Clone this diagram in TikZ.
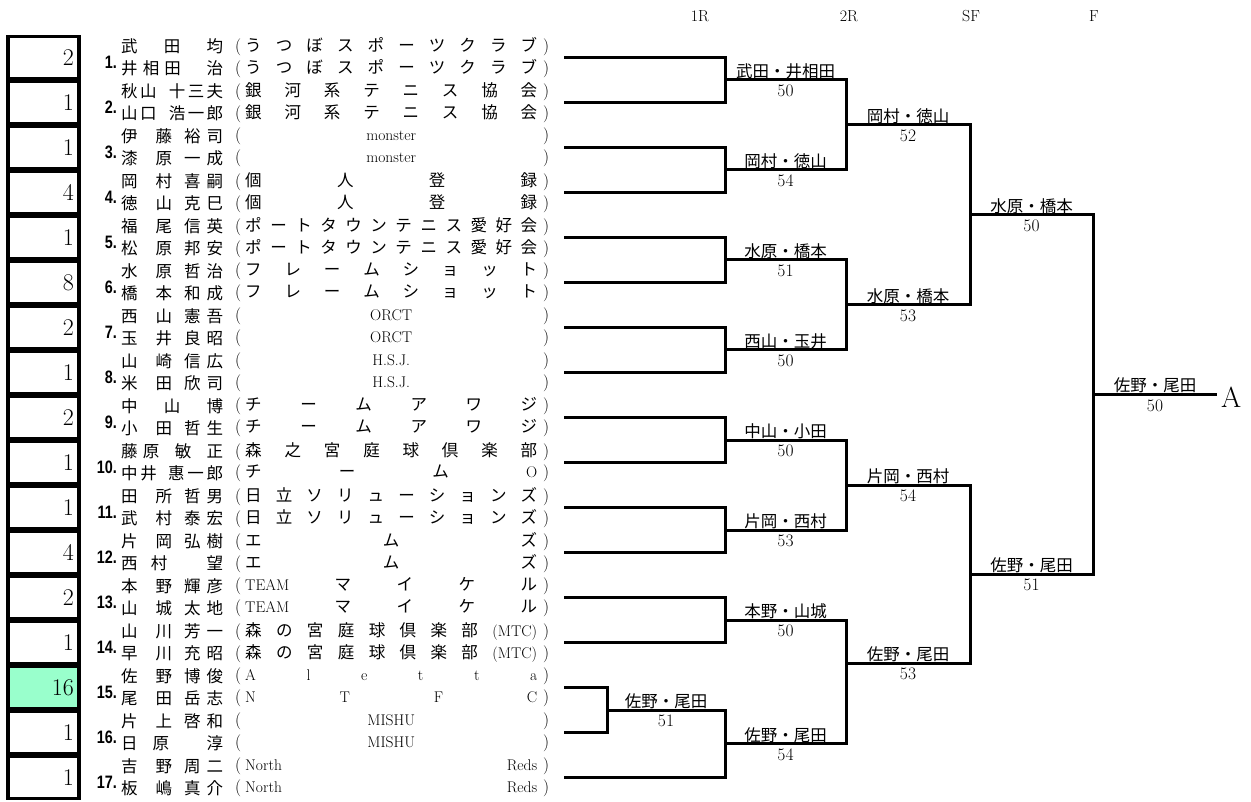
\documentclass[tikz,border=0pt]{standalone}
\usepackage{fontspec}
\newfontfamily\jp{Noto Sans CJK JP}
\newfontfamily\numf[FakeStretch=0.8]{Liberation Sans}
\usetikzlibrary{positioning}

\definecolor{seedgreen}{RGB}{153,255,204}

% spacing helpers for the entry list
\newcommand{\jg}{\hfill}
\newcommand{\latn}[1]{{\rmfamily\fontsize{15.5}{15.5}\selectfont #1}}
\newcommand{\midtext}[1]{\hfill\latn{#1}\hfill}
\newcommand{\nmtwo}[4]{#1\jg\jg\jg #2\jg\jg #3\jg #4}
\def\spread#1{\spreadA#1\relax}
\def\spreadA#1{#1\spreadB}
\def\spreadB#1{\ifx\relax#1\else\hfill#1\expandafter\spreadB\fi}
\newcommand{\jpsize}{\jp\fontsize{16.5}{16.5}\selectfont}
\newcommand{\nm}[1]{\hbox to 102pt{\jpsize #1}}
\newcommand{\paren}[1]{{\rmfamily\fontsize{17}{17}\selectfont #1}}
\newcommand{\cl}[1]{\hbox{\paren{(}\kern4pt\hbox to 292pt{\jpsize #1}\kern6pt\paren{)}}}

\tikzset{
  bline/.style={line width=3pt},
  seedbox/.style={draw, line width=3.5pt, minimum width=71pt, minimum height=42pt, inner sep=0pt},
  seednum/.style={anchor=east, inner sep=0pt, font=\fontsize{24}{24}\selectfont},
  entnum/.style={anchor=east, inner sep=0pt, font=\numf\bfseries\fontsize{18}{18}\selectfont},
  ptext/.style={anchor=west, inner sep=0pt, font=\fontsize{15}{15}\selectfont},
  wname/.style={above, inner sep=1pt, font=\jp\fontsize{16.5}{16.5}\selectfont},
  wscore/.style={below, inner sep=5pt, font=\fontsize{17.5}{17.5}\selectfont},
  rndhead/.style={inner sep=0pt, font=\fontsize{16}{16}\selectfont},
}

\begin{document}
\begin{tikzpicture}[x=1pt, y=-1pt]
\useasboundingbox (0,0) rectangle (1251,802);

% Round headers
\node[rndhead] (h1) at (700,16) {1R};
\node[rndhead] (h2) at (849,16) {2R};
\node[rndhead] (h3) at (971,16) {SF};
\node[rndhead] (h4) at (1094,16) {F};

% Entries: seed box, number, players, clubs
\foreach \i/\val/\bg/\na/\ca/\nb/\cb in {
  1/2/white/{武\jg 田\jg 均}/{\spread{うつぼスポーツクラブ}}/{井\jg 相\jg 田\jg\jg\jg\jg\jg 治}/{\spread{うつぼスポーツクラブ}},
  2/1/white/{秋\jg 山\jg\jg\jg\jg\jg 十\jg 三\jg 夫}/{\spread{銀河系テニス協会}}/{山\jg 口\jg\jg\jg\jg\jg 浩\jg 一\jg 郎}/{\spread{銀河系テニス協会}},
  3/1/white/{\nmtwo 伊藤裕司}/{\midtext{monster}}/{\nmtwo 漆原一成}/{\midtext{monster}},
  4/4/white/{\nmtwo 岡村喜嗣}/{\spread{個人登録}}/{\nmtwo 徳山克巳}/{\spread{個人登録}},
  5/1/white/{\nmtwo 福尾信英}/{\spread{ポートタウンテニス愛好会}}/{\nmtwo 松原邦安}/{\spread{ポートタウンテニス愛好会}},
  6/8/white/{\nmtwo 水原哲治}/{\spread{フレームショット}}/{\nmtwo 橋本和成}/{\spread{フレームショット}},
  7/2/white/{\nmtwo 西山憲吾}/{\midtext{ORCT}}/{\nmtwo 玉井良昭}/{\midtext{ORCT}},
  8/1/white/{\nmtwo 山崎信広}/{\midtext{H.S.J.}}/{\nmtwo 米田欣司}/{\midtext{H.S.J.}},
  9/2/white/{中\jg 山\jg 博}/{\spread{チームアワジ}}/{\nmtwo 小田哲生}/{\spread{チームアワジ}},
  10/1/white/{藤\jg 原\jg\jg\jg 敏\jg\jg\jg 正}/{\spread{森之宮庭球倶楽部}}/{中\jg 井\jg\jg\jg\jg 惠\jg 一\jg 郎}/{チ\jg ー\jg ム\jg\latn{O}},
  11/1/white/{\nmtwo 田所哲男}/{\spread{日立ソリューションズ}}/{\nmtwo 武村泰宏}/{\spread{日立ソリューションズ}},
  12/4/white/{\nmtwo 片岡弘樹}/{\spread{エムズ}}/{西\jg 村\jg\jg\jg 望}/{\spread{エムズ}},
  13/2/white/{\nmtwo 本野輝彦}/{\latn{TEAM}\jg マ\jg イ\jg ケ\jg ル}/{\nmtwo 山城太地}/{\latn{TEAM}\jg マ\jg イ\jg ケ\jg ル},
  14/1/white/{\nmtwo 山川芳一}/{\spread{森の宮庭球倶楽部}\jg\latn{(MTC)}}/{\nmtwo 早川充昭}/{\spread{森の宮庭球倶楽部}\jg\latn{(MTC)}},
  15/16/seedgreen/{\nmtwo 佐野博俊}/{\latn{\spread{Aletta}}}/{\nmtwo 尾田岳志}/{\latn{\spread{NTFC}}},
  16/1/white/{\nmtwo 片上啓和}/{\midtext{MISHU}}/{日\jg\jg 原\jg\jg\jg\jg\jg 淳}/{\midtext{MISHU}},
  17/1/white/{\nmtwo 吉野周二}/{\latn{North}\hfill\latn{Reds}}/{\nmtwo 板嶋真介}/{\latn{North}\hfill\latn{Reds}}}{
  \pgfmathsetmacro\cy{12.5+45*\i}
  \node[seedbox, fill=\bg] (b\i) at (43.5,\cy) {};
  \node[seednum] (v\i) at (74,\cy) {\val};
  \node[entnum] (n\i) at (117,\cy+5) {\i.};
  \node[ptext] (na\i) at (121,\cy-11) {\nm{\na}};
  \node[ptext] (ca\i) at (235,\cy-11) {\cl{\ca}};
  \node[ptext] (nb\i) at (121,\cy+11) {\nm{\nb}};
  \node[ptext] (cb\i) at (235,\cy+11) {\cl{\cb}};
  \coordinate (e\i) at (564,\cy);
}

% Match points
\coordinate (m1) at (725,80);
\coordinate (m2) at (725,170);
\coordinate (m3) at (725,260);
\coordinate (m4) at (725,350);
\coordinate (m5) at (725,440);
\coordinate (m6) at (725,530);
\coordinate (m7) at (725,620);
\coordinate (m0) at (607,710);
\coordinate (m8) at (725,743.75);
\coordinate (q1) at (846,125);
\coordinate (q2) at (846,305);
\coordinate (q3) at (846,485);
\coordinate (q4) at (846,663);
\coordinate (s1) at (970,215);
\coordinate (s2) at (970,574);
\coordinate (f) at (1093,394.5);
\coordinate (win) at (1217,394.5);

% Bracket lines
\draw[bline] (e1) -| (m1) |- (e2);
\draw[bline] (e3) -| (m2) |- (e4);
\draw[bline] (e5) -| (m3) |- (e6);
\draw[bline] (e7) -| (m4) |- (e8);
\draw[bline] (e9) -| (m5) |- (e10);
\draw[bline] (e11) -| (m6) |- (e12);
\draw[bline] (e13) -| (m7) |- (e14);
\draw[bline] (e15) -| (m0) |- (e16);
\draw[bline] (m0) -| (m8) |- (e17);
\draw[bline] (m1) -| (q1) |- (m2);
\draw[bline] (m3) -| (q2) |- (m4);
\draw[bline] (m5) -| (q3) |- (m6);
\draw[bline] (m7) -| (q4) |- (m8);
\draw[bline] (q1) -| (s1) |- (q2);
\draw[bline] (q3) -| (s2) |- (q4);
\draw[bline] (s1) -| (f) |- (s2);
\draw[bline] (f) -- (win);

% Winners and scores
\node[wname] (w1) at (785.5,80) {武田・井相田};
\node[wscore] (p1) at (785.5,80) {50};
\node[wname] (w2) at (785.5,170) {岡村・徳山};
\node[wscore] (p2) at (785.5,170) {54};
\node[wname] (w3) at (785.5,260) {水原・橋本};
\node[wscore] (p3) at (785.5,260) {51};
\node[wname] (w4) at (785.5,350) {西山・玉井};
\node[wscore] (p4) at (785.5,350) {50};
\node[wname] (w5) at (785.5,440) {中山・小田};
\node[wscore] (p5) at (785.5,440) {50};
\node[wname] (w6) at (785.5,530) {片岡・西村};
\node[wscore] (p6) at (785.5,530) {53};
\node[wname] (w7) at (785.5,620) {本野・山城};
\node[wscore] (p7) at (785.5,620) {50};
\node[wname] (w0) at (666,710) {佐野・尾田};
\node[wscore] (p0) at (666,710) {51};
\node[wname] (w8) at (785.5,743.75) {佐野・尾田};
\node[wscore] (p8) at (785.5,743.75) {54};
\node[wname] (wq1) at (908,125) {岡村・徳山};
\node[wscore] (pq1) at (908,125) {52};
\node[wname] (wq2) at (908,305) {水原・橋本};
\node[wscore] (pq2) at (908,305) {53};
\node[wname] (wq3) at (908,485) {片岡・西村};
\node[wscore] (pq3) at (908,485) {54};
\node[wname] (wq4) at (908,663) {佐野・尾田};
\node[wscore] (pq4) at (908,663) {53};
\node[wname] (ws1) at (1031.5,215) {水原・橋本};
\node[wscore] (ps1) at (1031.5,215) {50};
\node[wname] (ws2) at (1031.5,574) {佐野・尾田};
\node[wscore] (ps2) at (1031.5,574) {51};
\node[wname] (wf) at (1155,394.5) {佐野・尾田};
\node[wscore] (pf) at (1155,394.5) {50};
\node[anchor=west, inner sep=0pt, font=\fontsize{29}{29}\selectfont] (champ) at (1221,397) {A};

\end{tikzpicture}
\end{document}
